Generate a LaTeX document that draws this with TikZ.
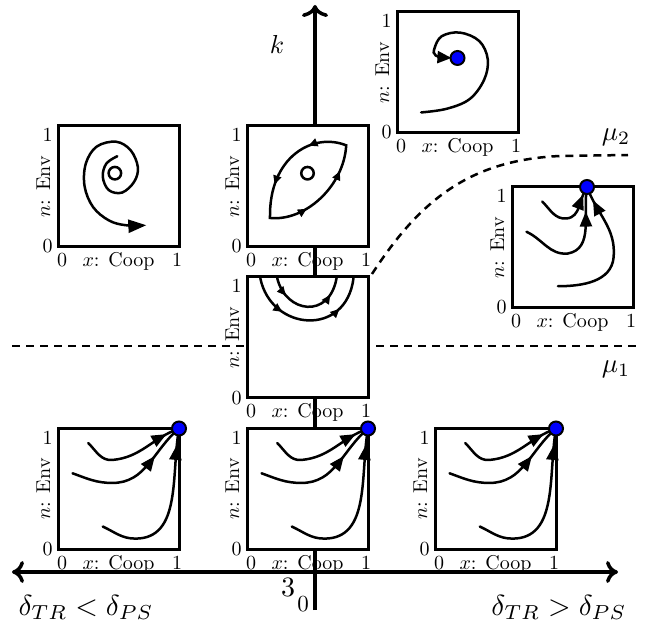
\documentclass[tikz,border=0pt]{standalone}
\usetikzlibrary{arrows.meta,decorations.markings,backgrounds}

\begin{document}
\begin{tikzpicture}[x=1pt, y=-1pt,
  mk/.tip={Triangle[length=9pt,width=8pt]},
  hd/.tip={Triangle[length=15pt,width=12pt]},
  hdA/.tip={Triangle[length=18pt,width=13pt]},
  hdB/.tip={Triangle[length=14pt,width=12pt]},
  cmh/.tip={Computer Modern Rightarrow[length=12pt,width=22pt]},
  cmv/.tip={Computer Modern Rightarrow[length=12pt,width=26pt]},
  pbox/.style={draw, line width=3pt, fill=white, minimum size=121pt,
               inner sep=0pt, outer sep=0pt},
  lbl/.style={scale=2, inner sep=0pt},
  big/.style={scale=#1, inner sep=0pt},
  traj/.style={line width=2.5pt, line cap=round},
  head/.style={decoration={markings, mark=at position #1 with {\arrow{hd}}},
               postaction={decorate}},
  two/.style 2 args={decoration={markings, mark=at position #1 with {\arrow{mk}},
               mark=at position #2 with {\arrow{mk}}}, postaction={decorate}},
  sink/.style={circle, draw=black, line width=2pt, fill=blue, minimum size=14pt,
               inner sep=0pt},
  ring/.style={circle, draw=black, line width=2.5pt, minimum size=12.5pt,
               inner sep=0pt},
  axis/.style={line width=3.5pt},
  thresh/.style={line width=2.5pt, dash pattern=on 8pt off 6pt}]

\useasboundingbox (0,0) rectangle (646,631);

% phase portraits: frame + tick labels
\foreach \n/\px/\py in {spiral/118.5/186.5, cycle/307.5/186.5, mid/307.5/337.5,
    lowL/118.5/489, lowM/307.5/489, lowR/495.5/489,
    focus/457.5/72.5, corner/572.5/247.5}{
  \node[pbox] (\n) at (\px,\py) {};
  \node[lbl, anchor=base east] (\n-ny0) at ([xshift=-5pt,yshift=-6pt]\n.south west) {0};
  \node[lbl, anchor=base east] (\n-ny1) at ([xshift=-5pt,yshift=-16pt]\n.north west) {1};
  \node[lbl, anchor=base] (\n-nx0) at ([xshift=4pt,yshift=-19.5pt]\n.south west) {0};
  \node[lbl, anchor=base] (\n-nx1) at ([xshift=-2pt,yshift=-19.5pt]\n.south east) {1};
  \node[lbl, anchor=base] (\n-xl) at ([yshift=-19.5pt]\n.south) {$x$: Coop};
  \node[lbl, anchor=base, rotate=90] (\n-yl) at ([xshift=-8pt]\n.west) {$n$: Env};
}

% axes and thresholds, behind the frames
\begin{scope}[on background layer]
  \coordinate (kBot) at (315,610);
  \coordinate (kTop) at (315,5);
  \coordinate (dL) at (12,572);
  \coordinate (dR) at (618,572);
  \coordinate (m1L) at (12,346);
  \coordinate (m1R) at (637,346);
  \coordinate (m2R) at (628,155);
  \draw[axis, -{cmv}] (kBot) -- (kTop);
  \draw[axis, {cmh}-{cmh}] (dL) -- (dR);
  \draw[thresh] (m1L) -- (m1R);
  \draw[thresh] ([shift={(4pt,3pt)}]mid.north east)
    .. controls (420,200) and (470,160) .. (560,156) -- (m2R);
\end{scope}

\node[big=2.6] (klab) at (277,44) {$k$};
\node[big=2.7] (mu2) at (616,137) {$\mu_2$};
\node[big=2.7] (mu1) at (616,369) {$\mu_1$};
\node[big=2.8] (orig3) at (288,587) {3};
\node[big=2.3] (orig0) at (303,604) {0};
\node[big=2.9, anchor=base west] (dlo) at (18,615) {$\delta_{TR} < \delta_{PS}$};
\node[big=2.9, anchor=base east] (dhi) at (627,615) {$\delta_{TR} > \delta_{PS}$};

% unstable focus
\begin{scope}[shift={(spiral.south west)}, x=121pt, y=121pt]
  \node[ring] (spiral-c) at (0.47,0.61) {};
  \draw[traj, -{hdA}] plot[smooth, tension=0.6] coordinates {(0.49,0.75) (0.40,0.69)
    (0.37,0.58) (0.42,0.47) (0.53,0.45) (0.63,0.54) (0.66,0.66) (0.60,0.80)
    (0.48,0.87) (0.32,0.83) (0.23,0.69) (0.22,0.50) (0.29,0.33) (0.42,0.22)
    (0.56,0.18) (0.73,0.18)};
\end{scope}

% limit cycle
\begin{scope}[shift={(cycle.south west)}, x=121pt, y=121pt]
  \node[ring] (cycle-c) at (0.50,0.61) {};
  \draw[traj, decoration={markings, mark=at position 0.16 with {\arrow{mk}},
      mark=at position 0.37 with {\arrow{mk}}, mark=at position 0.64 with {\arrow{mk}},
      mark=at position 0.86 with {\arrow{mk}}}, postaction={decorate}]
    (0.19,0.24) .. controls (0.48,0.21) and (0.80,0.50) .. (0.82,0.84)
    .. controls (0.55,0.95) and (0.18,0.75) .. cycle;
\end{scope}

% heteroclinic arcs on n=1
\begin{scope}[shift={(mid.south west)}, x=121pt, y=121pt]
  \draw[traj, two={0.22}{0.8}] (0.25,0.99) .. controls (0.32,0.70) and (0.68,0.65) .. (0.74,0.99);
  \draw[traj, two={0.3}{0.75}] (0.11,0.99) .. controls (0.2,0.55) and (0.82,0.5) .. (0.88,0.99);
\end{scope}

% stable focus
\begin{scope}[shift={(focus.south west)}, x=121pt, y=121pt]
  \draw[traj, -{hdB}] plot[smooth, tension=0.6] coordinates {(0.20,0.17) (0.41,0.20)
    (0.60,0.28) (0.72,0.44) (0.75,0.61) (0.68,0.76) (0.52,0.83) (0.37,0.80)
    (0.31,0.70) (0.32,0.64) (0.45,0.62)};
  \node[sink] (focus-fix) at (0.50,0.62) {};
\end{scope}

% interior sink on n=1
\begin{scope}[shift={(corner.south west)}, x=121pt, y=121pt]
  \draw[traj, head=0.88] (0.25,0.88) to[out=-45,in=185] (0.45,0.74) to[out=5,in=235] (0.62,1);
  \draw[traj, head=0.8] (0.12,0.63) to[out=-25,in=185] (0.46,0.45) to[out=10,in=260] (0.62,1);
  \draw[traj, head=0.9] (0.38,0.18) to[out=0,in=-95] (0.84,0.42) to[out=85,in=-70] (0.62,1);
  \node[sink] (corner-fix) at (0.62,1) {};
\end{scope}

% full cooperation
\foreach \n in {lowL,lowM,lowR}{
  \begin{scope}[shift={(\n.south west)}, x=121pt, y=121pt]
    \draw[traj, head=0.87] (0.25,0.88) to[out=-45,in=185] (0.45,0.74) to[out=5,in=200] (1,1);
    \draw[traj, head=0.72] (0.12,0.63) to[out=-20,in=180] (0.45,0.55) to[out=0,in=220] (1,1);
    \draw[traj, head=0.9] (0.37,0.19) to[out=-25,in=180] (0.64,0.09) to[out=0,in=-100] (1,1);
    \node[sink] (\n-fix) at (1,1) {};
  \end{scope}
}
\end{tikzpicture}
\end{document}
